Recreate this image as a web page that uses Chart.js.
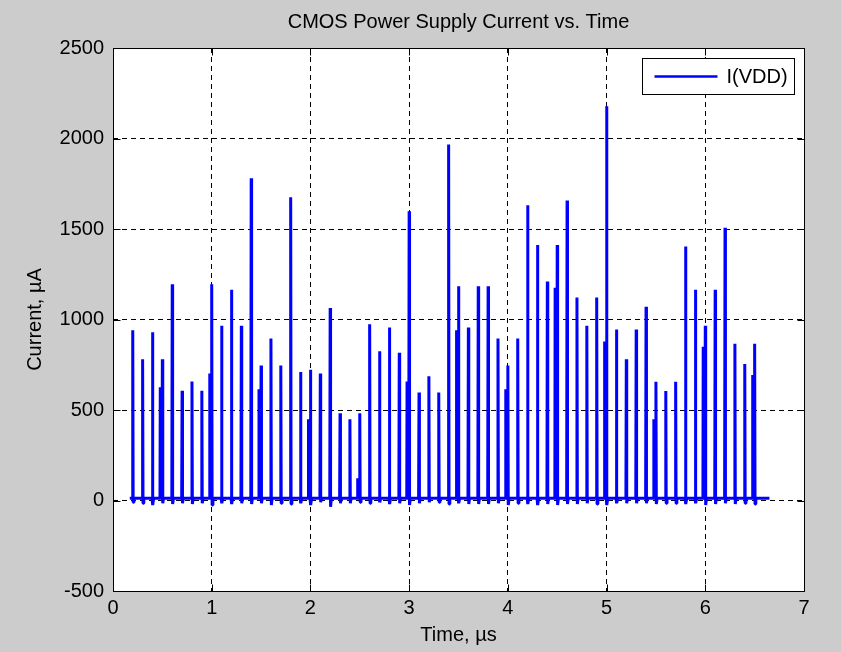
<!DOCTYPE html>
<html>
<head>
<meta charset="utf-8">
<script src="https://cdn.jsdelivr.net/npm/chart.js@4.4.1/dist/chart.umd.min.js"></script>
<style>
html,body{margin:0;padding:0;background:#cccccc;overflow:hidden}
#wrap{position:relative;width:841px;height:652px}
</style>
</head>
<body>
<div id="wrap"><canvas id="c" width="841" height="652"></canvas></div>
<script>
// ---------- data ----------
const chartTitle = 'CMOS Power Supply Current vs. Time';
const seriesLabel = 'I(VDD)';
const xAxisLabel = 'Time, \u00b5s';
const yAxisLabel = 'Current, \u00b5A';
const xTicks = [0, 1, 2, 3, 4, 5, 6, 7];
const yTicks = [-500, 0, 500, 1000, 1500, 2000, 2500];

// time of each current spike (µs)
const spikeTimes = [
  0.2, 0.3, 0.4, 0.5, 0.6, 0.7, 0.8, 0.9, 1.0, 1.1,
  1.2, 1.3, 1.4, 1.5, 1.6, 1.7, 1.8, 1.9, 2.0, 2.1,
  2.2, 2.3, 2.4, 2.5, 2.6, 2.7, 2.8, 2.9, 3.0, 3.1,
  3.2, 3.3, 3.4, 3.5, 3.6, 3.7, 3.8, 3.9, 4.0, 4.1,
  4.2, 4.3, 4.4, 4.5, 4.6, 4.7, 4.8, 4.9, 5.0, 5.1,
  5.2, 5.3, 5.4, 5.5, 5.6, 5.7, 5.8, 5.9, 6.0, 6.1,
  6.2, 6.3, 6.4, 6.5
];
// peak current of each spike (µA)
const peakValues = [
  940, 780, 930, 780, 1195, 607, 658, 607, 1195, 965,
  1165, 965, 1780, 746, 895, 746, 1676, 710, 722, 702,
  1063, 482, 449, 482, 974, 825, 956, 816, 1598, 597,
  686, 597, 1967, 1184, 956, 1184, 1184, 895, 746, 895,
  1631, 1412, 1210, 1412, 1658, 1121, 965, 1121, 2178, 945,
  781, 945, 1070, 656, 605, 656, 1403, 1165, 965, 1165,
  1507, 866, 754, 866
];
// smaller companion pulse just before some spikes (µA), null = none
const preValues = [
  null, null, null, 625, null, null, null, null, 702, null,
  null, null, null, 614, null, null, null, null, 449, null,
  null, null, null, 123, null, null, null, null, 658, null,
  null, null, null, 941, null, null, null, null, 614, null,
  null, null, null, 1176, null, null, null, null, 879, null,
  null, null, null, 449, null, null, null, null, 849, null,
  null, null, null, 693
];
// small undershoot after each spike (µA)
const dipValues = [
  -10, -15, -25, -15, -20, -15, -20, -15, -25, -15,
  -20, -15, -20, -15, -25, -15, -20, -15, -25, -10,
  -35, -15, -15, -10, -15, -10, -20, -15, -25, -15,
  -10, -10, -20, -15, -20, -20, -20, -15, -25, -15,
  -20, -25, -20, -25, -20, -20, -15, -20, -25, -15,
  -15, -15, -15, -20, -15, -15, -20, -15, -25, -20,
  -15, -20, -15, -20
];
const baselineLevel = 12;     // quiescent current (µA)
const traceStart = 0.17;      // µs
const traceEnd = 6.65;        // µs

// ---------- build trace ----------
const tracePoints = [{x: traceStart, y: baselineLevel}];
spikeTimes.forEach((t, i) => {
  if (preValues[i] !== null) {
    tracePoints.push({x: t - 0.024, y: baselineLevel});
    tracePoints.push({x: t - 0.021, y: preValues[i]});
    tracePoints.push({x: t - 0.018, y: baselineLevel});
  }
  tracePoints.push({x: t - 0.004, y: baselineLevel});
  tracePoints.push({x: t, y: peakValues[i]});
  tracePoints.push({x: t + 0.004, y: dipValues[i]});
  tracePoints.push({x: t + 0.012, y: baselineLevel});
});
tracePoints.push({x: traceEnd, y: baselineLevel});

// ---------- styling ----------
const FONT = "'Liberation Sans', Arial, Helvetica, sans-serif";
const TXT = '#000000';
const LINE_BLUE = '#0000ff';
const plainNumber = v => String(v);

const backgroundPlugin = {
  id: 'bg',
  beforeDraw(chart) {
    const {ctx, chartArea: a} = chart;
    ctx.save();
    ctx.fillStyle = '#cccccc';
    ctx.fillRect(0, 0, chart.width, chart.height);
    ctx.fillStyle = '#ffffff';
    ctx.fillRect(a.left, a.top, a.right - a.left, a.bottom - a.top);
    ctx.restore();
  }
};

const framePlugin = {
  id: 'frame',
  afterDraw(chart) {
    const {ctx, chartArea: a, scales} = chart;
    const L = Math.round(a.left) + 0.5, R = Math.round(a.right) + 0.5;
    const T = Math.round(a.top) + 0.5, B = Math.round(a.bottom) + 0.5;
    const tl = 7;
    ctx.save();
    ctx.strokeStyle = '#000000';
    ctx.lineWidth = 1;
    ctx.setLineDash([]);
    ctx.beginPath();
    ctx.rect(L, T, R - L, B - T);
    // inward ticks
    xTicks.forEach(v => {
      const px = Math.round(scales.x.getPixelForValue(v)) + 0.5;
      ctx.moveTo(px, B); ctx.lineTo(px, B - tl);
      ctx.moveTo(px, T); ctx.lineTo(px, T + tl);
    });
    yTicks.forEach(v => {
      const py = Math.round(scales.y.getPixelForValue(v)) + 0.5;
      ctx.moveTo(L, py); ctx.lineTo(L + tl, py);
      ctx.moveTo(R, py); ctx.lineTo(R - tl, py);
    });
    ctx.stroke();

    // legend box (top-right inside the axes)
    const ds = chart.data.datasets[0];
    const bw = 152, bh = 36;
    const bx = Math.round(a.right) - 10 - bw + 0.5;
    const by = Math.round(a.top) + 10 + 0.5;
    ctx.fillStyle = '#ffffff';
    ctx.fillRect(bx, by, bw, bh);
    ctx.strokeStyle = '#000000';
    ctx.strokeRect(bx, by, bw, bh);
    const my = by + bh / 2;
    ctx.strokeStyle = ds.borderColor;
    ctx.lineWidth = 2.5;
    ctx.beginPath();
    ctx.moveTo(bx + 12, my);
    ctx.lineTo(bx + 75, my);
    ctx.stroke();
    ctx.fillStyle = TXT;
    ctx.font = '20px ' + FONT;
    ctx.textBaseline = 'middle';
    ctx.textAlign = 'left';
    ctx.fillText(ds.label, bx + 84, my + 1);
    ctx.restore();
  }
};

const ctx = document.getElementById('c').getContext('2d');
new Chart(ctx, {
  type: 'line',
  data: {
    datasets: [{
      label: seriesLabel,
      data: tracePoints,
      borderColor: LINE_BLUE,
      backgroundColor: LINE_BLUE,
      borderWidth: 3,
      borderJoinStyle: 'bevel',
      pointRadius: 0,
      fill: false,
      tension: 0
    }]
  },
  options: {
    responsive: false,
    animation: false,
    devicePixelRatio: 1,
    layout: {padding: {left: 0, right: 37, top: 0, bottom: 0}},
    plugins: {
      legend: {display: false},
      tooltip: {enabled: false},
      title: {
        display: true,
        text: chartTitle,
        fullSize: false,
        color: TXT,
        font: {family: FONT, size: 20, weight: 'normal', lineHeight: 1.2},
        padding: {top: 10, bottom: 14}
      }
    },
    scales: {
      x: {
        type: 'linear',
        min: 0, max: 7,
        afterBuildTicks: s => { s.ticks = xTicks.map(v => ({value: v})); },
        afterFit: s => { s.height = 61; },
        grid: {color: '#000000', lineWidth: 1, drawTicks: false},
        border: {display: false, dash: [5, 4]},
        ticks: {color: TXT, font: {family: FONT, size: 20}, padding: 5, maxRotation: 0, autoSkip: false, callback: plainNumber},
        title: {display: true, text: xAxisLabel, color: TXT, font: {family: FONT, size: 20, lineHeight: 1.2}, padding: {top: 0, bottom: 5}}
      },
      y: {
        type: 'linear',
        min: -500, max: 2500,
        afterBuildTicks: s => { s.ticks = yTicks.map(v => ({value: v})); },
        afterFit: s => { s.width = 113; },
        grid: {color: '#000000', lineWidth: 1, drawTicks: false},
        border: {display: false, dash: [5, 4]},
        ticks: {color: TXT, font: {family: FONT, size: 20}, padding: 9, autoSkip: false, callback: plainNumber},
        title: {display: true, text: yAxisLabel, color: TXT, font: {family: FONT, size: 20, lineHeight: 1.2}, padding: {top: 23, bottom: 0}}
      }
    }
  },
  plugins: [backgroundPlugin, framePlugin]
});
</script>
</body>
</html>
